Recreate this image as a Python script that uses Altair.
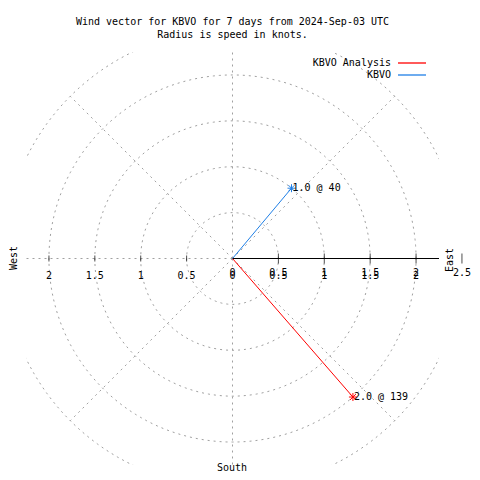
import altair as alt
import numpy as np
import pandas as pd

# ---- data ----
series = ["KBVO Analysis", "KBVO"]
speed_kt = [2.0, 1.0]
direction_deg = [139, 40]
series_colors = ["#ff0000", "#1f7fe6"]

ring_radii = [0.5, 1.0, 1.5, 2.0, 2.5]
radial_angles = [45, 90, 135, 180, 225, 270, 315]  # math angles, east solid axis drawn separately
r_tick_values = [0.5, 1.0, 1.5, 2.0, 2.5]
r_label_values = [0, 0.5, 1.0, 1.5, 2.0, 2.5]
x_label_values = [-2, -1.5, -1, -0.5, 0, 0.5, 1, 1.5, 2]
left_tick_values = [-2, -1.5, -1, -0.5]

TITLE = ["Wind vector for KBVO for 7 days from 2024-Sep-03 UTC",
         "Radius is speed in knots."]
FONT = "DejaVu Sans Mono"
LIM = 2.25
W = 413

xs = alt.Scale(domain=[-LIM, LIM], nice=False, zero=False)
ys = alt.Scale(domain=[-LIM, LIM], nice=False, zero=False)
X = lambda f: alt.X(f, type="quantitative", scale=xs, axis=None)
Y = lambda f: alt.Y(f, type="quantitative", scale=ys, axis=None)

# rings
th = np.deg2rad(np.arange(0, 361, 2))
ring_rows = []
for r in ring_radii:
    for i, t in enumerate(th):
        ring_rows.append({"ring": r, "i": i, "x": r * np.cos(t), "y": r * np.sin(t)})
rings_df = pd.DataFrame(ring_rows)

rings = alt.Chart(rings_df).mark_line(
    color="#a0a0a0", strokeWidth=1, strokeDash=[2, 4], clip=True
).encode(x=X("x"), y=Y("y"), detail="ring:N", order="i:Q")

# radial lines
rad_df = pd.DataFrame({"a": radial_angles})
radials = alt.Chart(rad_df).transform_calculate(
    x0="0", y0="0",
    x1="2.5*cos(datum.a*PI/180)", y1="2.5*sin(datum.a*PI/180)"
).mark_rule(color="#a0a0a0", strokeWidth=1, strokeDash=[2, 4], clip=True).encode(
    x=X("x0"), y=Y("y0"), x2="x1:Q", y2="y1:Q")

# east solid axis
east_df = pd.DataFrame({"x0": [0.0], "x1": [2.5], "y0": [0.0]})
east_axis = alt.Chart(east_df).mark_rule(color="black", strokeWidth=1, clip=True).encode(
    x=X("x0"), x2="x1:Q", y=Y("y0"))

# ticks
rt_df = pd.DataFrame({"v": r_tick_values, "z": 0.0})
r_ticks = alt.Chart(rt_df).mark_tick(color="black", orient="vertical", size=10, thickness=1).encode(
    x=X("v"), y=Y("z"))
lt_df = pd.DataFrame({"v": left_tick_values, "z": 0.0})
l_ticks = alt.Chart(lt_df).mark_tick(color="black", orient="vertical", size=6, thickness=1).encode(
    x=X("v"), y=Y("z"))

# tick labels (the reference draws the r-axis and x-axis labels on top of each other)
rl_df = pd.DataFrame({"v": r_label_values, "z": 0.0})
r_labels = alt.Chart(rl_df).transform_calculate(lab="format(datum.v, '')").mark_text(
    font=FONT, fontSize=10, color="black", baseline="middle", align="center", dy=14
).encode(x=X("v"), y=Y("z"), text="lab:N")
xl_df = pd.DataFrame({"v": x_label_values, "z": 0.0})
x_labels = alt.Chart(xl_df).transform_calculate(lab="format(abs(datum.v), '')").mark_text(
    font=FONT, fontSize=10, color="black", baseline="middle", align="center", dy=17.5
).encode(x=X("v"), y=Y("z"), text="lab:N")

# compass labels
west = alt.Chart(pd.DataFrame({"t": ["West"]})).mark_text(
    font=FONT, fontSize=10, angle=270, baseline="middle", align="center", color="black"
).encode(x=alt.value(-12), y=alt.value(206), text="t:N")
east = alt.Chart(pd.DataFrame({"t": ["East"]})).mark_text(
    font=FONT, fontSize=10, angle=270, baseline="middle", align="center", color="black"
).encode(x=alt.value(424), y=alt.value(208), text="t:N")
south = alt.Chart(pd.DataFrame({"t": ["South"]})).mark_text(
    font=FONT, fontSize=10, baseline="middle", align="center", color="black"
).encode(x=alt.value(206), y=alt.value(415.5), text="t:N")

# vectors
vec_df = pd.DataFrame({"series": series, "speed": speed_kt, "dir": direction_deg})
color = alt.Color("series:N", scale=alt.Scale(domain=series, range=series_colors), legend=None)
vbase = alt.Chart(vec_df).transform_calculate(
    x="datum.speed*sin(datum.dir*PI/180)",
    y="datum.speed*cos(datum.dir*PI/180)",
    x0="0", y0="0",
    lab="format(datum.speed, '.1f') + ' @ ' + datum.dir",
)
vec_lines = vbase.mark_rule(strokeWidth=1).encode(
    x=X("x0"), y=Y("y0"), x2="x:Q", y2="y:Q", color=color)
STAR = "M-1,0L1,0M0,-1L0,1M-0.75,-0.75L0.75,0.75M-0.75,0.75L0.75,-0.75"
vec_pts = vbase.mark_point(shape=STAR, size=64, filled=False, strokeWidth=1, opacity=1).encode(
    x=X("x"), y=Y("y"), color=color)
vec_text = vbase.mark_text(font=FONT, fontSize=10, align="left", baseline="middle", dx=1,
                           color="black").encode(x=X("x"), y=Y("y"), text="lab:N")

# legend (drawn manually: label then line to its right)
leg_df = pd.DataFrame({"series": series, "row": [0, 1]})
row_y = alt.Y("row:Q", scale=alt.Scale(domain=[0, 1], range=[11, 23]), axis=None)
leg_text = alt.Chart(leg_df).mark_text(font=FONT, fontSize=10, align="right", baseline="middle",
                                       color="black").encode(
    x=alt.value(365), y=row_y, text="series:N")
leg_line = alt.Chart(leg_df).mark_rule(strokeWidth=1.3).encode(
    x=alt.value(372), x2=alt.value(400), y=row_y, color=color)

chart = alt.layer(
    rings, radials, east_axis, l_ticks, r_ticks, r_labels, x_labels,
    west, east, south, vec_lines, vec_pts, vec_text, leg_text, leg_line
).resolve_scale(y="independent").properties(
    width=W, height=W,
    title=alt.Title(TITLE, font=FONT, fontSize=10, fontWeight="normal", color="black",
                    anchor="middle", lineHeight=13, baseline="bottom", offset=2),
    autosize=alt.AutoSizeParams(type="none"),
    padding={"left": 18, "top": 44, "right": 33, "bottom": 7},
).configure(background="white").configure_view(strokeWidth=0, stroke="transparent")

chart.save("out.html", embed_options={"renderer": "svg", "actions": False})
